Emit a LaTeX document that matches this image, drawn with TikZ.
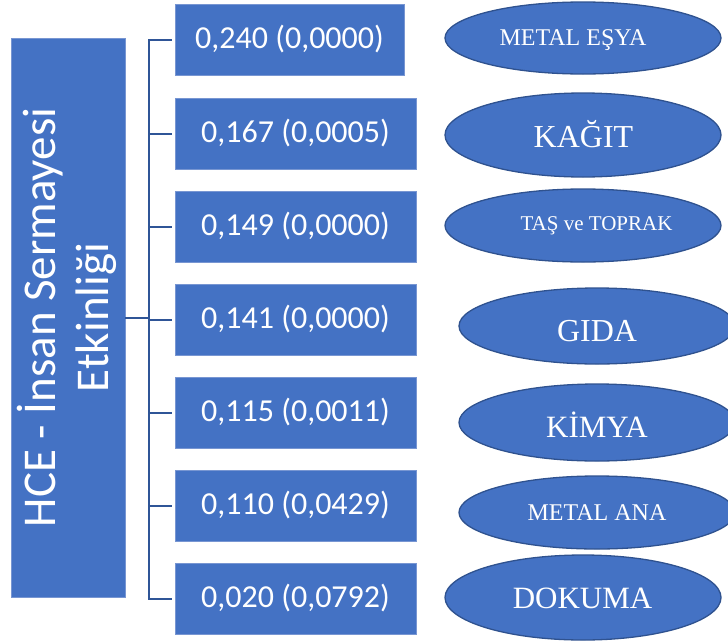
\documentclass[tikz,border=0pt]{standalone}
\usepackage{fontspec}
\setmainfont{Liberation Serif}
\newfontfamily\calfont{Carlito}
\usetikzlibrary{shapes.geometric}
\definecolor{boxblue}{RGB}{68,114,196}
\definecolor{edgeblue}{RGB}{47,82,143}
\definecolor{linkblue}{RGB}{47,85,151}
\definecolor{boxedge}{RGB}{120,150,210}
\tikzset{
  valbox/.style={rectangle, fill=boxblue, draw=boxedge, line width=0.8pt,
    minimum height=71pt, minimum width=241pt, inner sep=0pt,
    text=white, font=\calfont\fontsize{32}{38}\selectfont,
    text height=24pt, text depth=6.4pt},
  sector/.style={ellipse, fill=boxblue, draw=edgeblue, line width=1.3pt,
    minimum width=276pt, inner sep=0pt},
  sectext/.style={anchor=base, text=white, inner sep=0pt},
  conn/.style={draw=linkblue, line width=2pt},
  sidetext/.style={rotate=90, anchor=base, text=white, inner sep=0pt,
    font=\calfont\fontsize{47}{53}\selectfont}
}
\begin{document}
\begin{tikzpicture}[x=1pt,y=-1pt]
\useasboundingbox (0,0) rectangle (728,643);
% left box
\node[rectangle, fill=boxblue, draw=boxedge, line width=0.8pt,
  minimum width=114pt, minimum height=559pt, inner sep=0pt] (L) at (68,317.5) {};
\node[sidetext] (L1) at (55,317.5) {HCE - İnsan Sermayesi};
\node[sidetext] (L2) at (108,317.5) {Etkinliği};
% value boxes
\node[valbox, minimum width=229pt] (b1) at (289.5,40) {0,240 (0,0000)};
\node[valbox] (b2) at (295.5,133.5) {0,167 (0,0005)};
\node[valbox] (b3) at (295.5,226.5) {0,149 (0,0000)};
\node[valbox] (b4) at (295.5,319.5) {0,141 (0,0000)};
\node[valbox] (b5) at (295.5,412.5) {0,115 (0,0011)};
\node[valbox] (b6) at (295.5,506) {0,110 (0,0429)};
\node[valbox] (b7) at (295.5,599) {0,020 (0,0792)};
% connectors
\coordinate (top) at (149,40);
\coordinate (bot) at (149,599);
\draw[conn, line cap=rect] (top) -- (bot);
\draw[conn] (L.east) -- (L.east -| top);
\foreach \b in {b1,b2,b3,b4,b5,b6,b7}
  \draw[conn, shorten <=3pt] (\b.west) -- (\b.west -| top);
% sectors
\node[sector, minimum height=72pt] (e1) at (583,38) {};
\node[sector, minimum height=84pt] (e2) at (583,135) {};
\node[sector, minimum height=73pt] (e3) at (583,225.5) {};
\node[sector, minimum height=76pt] (e4) at (597,326) {};
\node[sector, minimum height=77pt] (e5) at (597,422.5) {};
\node[sector, minimum height=73pt] (e6) at (597,512.5) {};
\node[sector, minimum height=85pt] (e7) at (583,597.5) {};
\node[sectext, font=\fontsize{24}{28}\selectfont] (t1) at (573,45) {METAL EŞYA};
\node[sectext, font=\fontsize{32}{36}\selectfont] (t2) at (583.5,147) {KAĞIT};
\node[sectext, font=\fontsize{21}{25}\selectfont] (t3) at (596.5,230) {TAŞ ve TOPRAK};
\node[sectext, font=\fontsize{32}{36}\selectfont] (t4) at (597,341) {GIDA};
\node[sectext, font=\fontsize{31}{36}\selectfont] (t5) at (597,437) {KİMYA};
\node[sectext, font=\fontsize{24}{28}\selectfont] (t6) at (597,520) {METAL ANA};
\node[sectext, font=\fontsize{31}{36}\selectfont] (t7) at (582.5,608) {DOKUMA};
\end{tikzpicture}
\end{document}
